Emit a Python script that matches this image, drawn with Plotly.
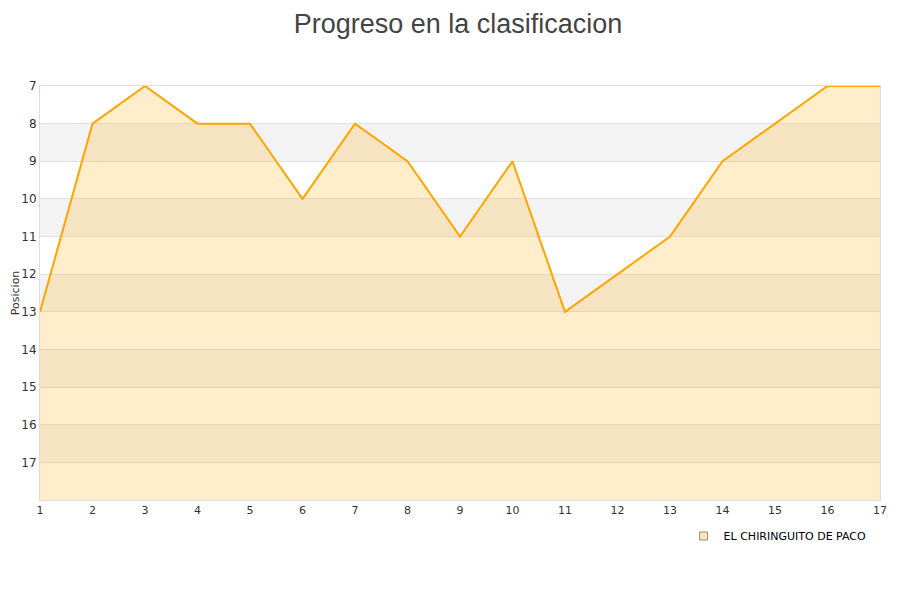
import plotly.graph_objects as go

jornadas = list(range(1, 18))
posiciones = [13, 8, 7, 8, 8, 10, 8, 9, 11, 9, 13, 12, 11, 9, 8, 7, 7]
y_ticks = list(range(7, 18))
equipo = "EL CHIRINGUITO DE PACO"
titulo = "Progreso en la clasificacion"
y_titulo = "Posicion"
fondo = 18

fig = go.Figure()

# baseline for fill
fig.add_trace(go.Scatter(x=jornadas, y=[fondo] * len(jornadas), mode="lines",
                         line=dict(width=0, color="rgba(0,0,0,0)"),
                         showlegend=False, hoverinfo="skip"))
fig.add_trace(go.Scatter(x=jornadas, y=posiciones, mode="lines",
                         line=dict(color="#ffa500", width=2),
                         fill="tonexty", fillcolor="rgba(255,165,0,0.2)",
                         showlegend=False, name=equipo))
# legend entry
fig.add_trace(go.Scatter(x=[None], y=[None], mode="markers", name=equipo,
                         marker=dict(symbol="square", size=8, color="#fde6c4",
                                     line=dict(color="#a08a6a", width=1))))

shapes = []
for k in range(8, 18, 2):
    shapes.append(dict(type="rect", xref="paper", yref="y", x0=0, x1=1,
                       y0=k, y1=k + 1, fillcolor="#f3f3f3", line=dict(width=0),
                       layer="below"))

fig.update_layout(
    width=900, height=600,
    margin=dict(l=32, r=28, t=78, b=108, autoexpand=False),
    paper_bgcolor="white", plot_bgcolor="white",
    title=dict(text=titulo, x=0.5, xanchor="center", y=0.99, yanchor="top",
               pad=dict(t=0, b=0),
               font=dict(family="Liberation Sans, Arial", size=27, color="#444444")),
    shapes=shapes,
    annotations=[dict(text=y_titulo, xref="paper", yref="paper", x=-0.0295, y=0.5,
                      xanchor="center", yanchor="middle", textangle=-90, showarrow=False,
                      font=dict(family="DejaVu Sans", size=11, color="#333333"))],
    font=dict(family="DejaVu Sans", size=11, color="#333333"),
    legend=dict(orientation="h", x=0.99, xanchor="right", y=-0.052, yanchor="top",
                font=dict(family="DejaVu Sans", size=11, color="#000000"),
                bgcolor="rgba(0,0,0,0)"),
    showlegend=True,
)
fig.update_xaxes(range=[1, 17], tickvals=jornadas, showgrid=False, zeroline=False,
                 showline=True, linecolor="#dddddd", linewidth=1, mirror=True,
                 ticks="", automargin=False, tickfont=dict(size=11, color="#333333"))
fig.update_yaxes(range=[fondo, 7], tickvals=y_ticks, showgrid=True, gridcolor="#e2e2e2",
                 zeroline=False, showline=True, linecolor="#dddddd", linewidth=1,
                 mirror=True, ticks="", automargin=False,
                 tickfont=dict(size=12, color="#333333"))

fig.write_html("out.html")
